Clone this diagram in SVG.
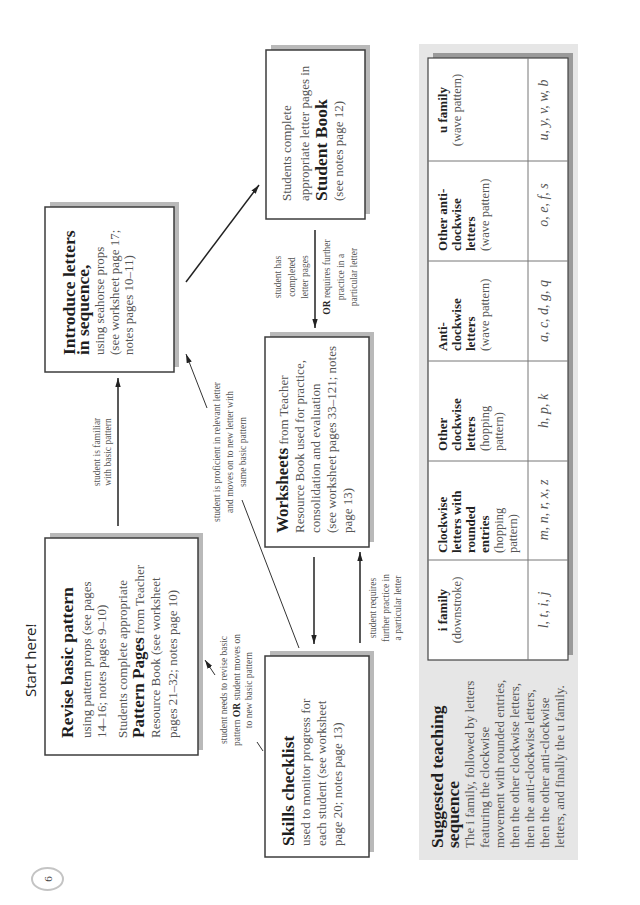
<svg xmlns="http://www.w3.org/2000/svg" width="640" height="905" viewBox="0 0 640 905">
<defs>
<style>
.box{fill:#fff;stroke:#3c3c3c;stroke-width:1.5}
.sh{fill:#b9b9b9}
.h{font-family:"Liberation Serif",serif;font-weight:bold;font-size:17.5px;fill:#1e1e1e}
.b{font-weight:bold;fill:#1e1e1e;font-size:17px}
.t{font-family:"Liberation Serif",serif;font-size:13px;fill:#555}
.lb{font-family:"Liberation Serif",serif;font-size:9.5px;fill:#555;text-anchor:middle}
.lb .o{font-weight:bold;fill:#222}
.c{stroke:#222;stroke-width:1.5;fill:none}
.c2{stroke:#333;stroke-width:1;fill:none}
.th{font-family:"Liberation Serif",serif;font-weight:bold;font-size:13px;fill:#222}
.tr{font-family:"Liberation Serif",serif;font-size:12.5px;fill:#555}
.lt{font-family:"Liberation Serif",serif;font-style:italic;font-size:14px;fill:#555;text-anchor:middle}
.tl{stroke:#777;stroke-width:1}
</style>
<marker id="ah" viewBox="0 0 10 6" refX="10" refY="3" markerWidth="9" markerHeight="6" markerUnits="userSpaceOnUse" orient="auto">
<path d="M0,0 L10,3 L0,6 z" fill="#222"/>
</marker>
</defs>
<rect width="640" height="905" fill="#fff"/>
<g transform="translate(0,905) rotate(-90)">

<g id="page-number">
<ellipse cx="26" cy="47.5" rx="11" ry="15.5" fill="#fff" stroke="#c4c4c4" stroke-width="2"/>
<text x="26" y="51.5" text-anchor="middle" style="font-family:'Liberation Serif',serif;font-size:11px;fill:#444">6</text>
</g>

<g id="start-here">
<text x="208" y="36" style="font-family:'Open Sans',sans-serif;font-size:15px;fill:#222">Start here!</text>
</g>

<g id="revise">
<rect class="sh" x="155" y="50" width="217" height="153"/>
<rect class="box" x="150" y="45" width="217" height="153"/>
<text class="h" x="167" y="73">Revise basic pattern</text>
<text class="t" x="167" y="91">using pattern props (see pages</text>
<text class="t" x="167" y="106">14–16; notes pages 9–10)</text>
<text class="t" x="167" y="127">Students complete appropriate</text>
<text class="t" x="167" y="144"><tspan class="b">Pattern Pages</tspan> from Teacher</text>
<text class="t" x="167" y="160">Resource Book (see worksheet</text>
<text class="t" x="167" y="177">pages 21–32; notes page 10)</text>
</g>

<g id="introduce">
<rect class="sh" x="538" y="50" width="165" height="129"/>
<rect class="box" x="533" y="45" width="165" height="129"/>
<text class="h" x="550" y="75">Introduce letters</text>
<text class="h" x="550" y="89">in sequence,</text>
<text class="t" x="550" y="104">using seahorse props</text>
<text class="t" x="550" y="119">(see worksheet page 17;</text>
<text class="t" x="550" y="133">notes pages 10–11)</text>
</g>

<g id="student-book">
<rect class="sh" x="691" y="271" width="169" height="99"/>
<rect class="box" x="686" y="266" width="169" height="99"/>
<text class="t" x="704" y="291">Students complete</text>
<text class="t" x="704" y="309">appropriate letter pages in</text>
<text class="h" x="704" y="327">Student Book</text>
<text class="t" x="704" y="343">(see notes page 12)</text>
</g>

<g id="worksheets">
<rect class="sh" x="363" y="270" width="210" height="104"/>
<rect class="box" x="358" y="265" width="210" height="104"/>
<text class="t" x="372" y="288"><tspan class="b">Worksheets</tspan> from Teacher</text>
<text class="t" x="372" y="304">Resource Book used for practice,</text>
<text class="t" x="372" y="320">consolidation and evaluation</text>
<text class="t" x="372" y="336">(see worksheet pages 33–121; notes</text>
<text class="t" x="372" y="352">page 13)</text>
</g>

<g id="skills">
<rect class="sh" x="53" y="270" width="201" height="104"/>
<rect class="box" x="48" y="265" width="201" height="104"/>
<text class="h" x="59" y="294">Skills checklist</text>
<text class="t" x="59" y="310">used to monitor progress for</text>
<text class="t" x="59" y="326">each student (see worksheet</text>
<text class="t" x="59" y="342">page 20; notes page 13)</text>
</g>

<g id="connectors">
<line class="c" x1="379" y1="118" x2="527" y2="118" marker-end="url(#ah)"/>
<line class="c" x1="623" y1="186" x2="720" y2="259" marker-end="url(#ah)"/>
<line class="c" x1="675" y1="315" x2="577" y2="315" marker-end="url(#ah)"/>
<line class="c" x1="348" y1="314" x2="261" y2="314" marker-end="url(#ah)"/>
<line class="c" x1="262" y1="360" x2="353" y2="360" marker-end="url(#ah)"/>
<line class="c2" x1="257" y1="299" x2="405" y2="242"/>
<line class="c2" x1="497" y1="207" x2="551" y2="186" marker-end="url(#ah)"/>
<line class="c2" x1="154" y1="263" x2="163" y2="257"/>
<line class="c2" x1="230" y1="215" x2="245" y2="205" marker-end="url(#ah)"/>
<text class="lb" x="453" y="100">student is familiar</text>
<text class="lb" x="453" y="111">with basic pattern</text>
<text class="lb" x="628" y="281">student has</text>
<text class="lb" x="628" y="295">completed</text>
<text class="lb" x="628" y="308">letter pages</text>
<text class="lb" x="628" y="330"><tspan class="o">OR</tspan> requires further</text>
<text class="lb" x="628" y="344">practice in a</text>
<text class="lb" x="628" y="357">particular letter</text>
<text class="lb" x="453" y="220">student is proficient in relevant letter</text>
<text class="lb" x="453" y="233">and moves on to new letter with</text>
<text class="lb" x="453" y="246">same basic pattern</text>
<text class="lb" x="297" y="376">student requires</text>
<text class="lb" x="297" y="389">further practice in</text>
<text class="lb" x="297" y="401">a particular letter</text>
<text class="lb" x="215" y="227">student needs to revise basic</text>
<text class="lb" x="215" y="240">pattern <tspan class="o">OR</tspan> student moves on</text>
<text class="lb" x="215" y="252">to new basic pattern</text>
</g>

<g id="sequence-panel">
<rect x="45" y="419" width="816" height="159" fill="#e6e6e6"/>
<text class="h" x="57" y="443">Suggested teaching</text>
<text class="h" x="57" y="459">sequence</text>
<text class="t" x="57" y="474">The i family, followed by letters</text>
<text class="t" x="57" y="489">featuring the clockwise</text>
<text class="t" x="57" y="504">movement with rounded entries,</text>
<text class="t" x="57" y="519">then the other clockwise letters,</text>
<text class="t" x="57" y="534">then the anti-clockwise letters,</text>
<text class="t" x="57" y="549">then the other anti-clockwise</text>
<text class="t" x="57" y="564">letters, and finally the u family.</text>
</g>

<g id="table">
<rect x="250" y="433" width="602" height="140" fill="#9a9a9a"/>
<rect x="245" y="428" width="602" height="140" fill="#fff" stroke="#444" stroke-width="1.2"/>
<line class="tl" x1="245" y1="528" x2="847" y2="528"/>
<line class="tl" x1="345" y1="428" x2="345" y2="568"/>
<line class="tl" x1="444" y1="428" x2="444" y2="568"/>
<line class="tl" x1="544" y1="428" x2="544" y2="568"/>
<line class="tl" x1="644" y1="428" x2="644" y2="568"/>
<line class="tl" x1="744" y1="428" x2="744" y2="568"/>

<text class="th" x="295" y="447" text-anchor="middle">i family</text>
<text class="tr" x="295" y="461" text-anchor="middle">(downstroke)</text>
<text class="lt" x="295" y="548">l, t, i, j</text>

<text class="th" x="352" y="447">Clockwise</text>
<text class="th" x="352" y="461">letters with</text>
<text class="th" x="352" y="475">rounded</text>
<text class="th" x="352" y="489">entries</text>
<text class="tr" x="352" y="503">(hopping</text>
<text class="tr" x="352" y="517">pattern)</text>
<text class="lt" x="395" y="548">m, n, r, x, z</text>

<text class="th" x="454" y="447">Other</text>
<text class="th" x="454" y="461">clockwise</text>
<text class="th" x="454" y="475">letters</text>
<text class="tr" x="454" y="489">(hopping</text>
<text class="tr" x="454" y="503">pattern)</text>
<text class="lt" x="494" y="548">h, p, k</text>

<text class="th" x="554" y="447">Anti-</text>
<text class="th" x="554" y="461">clockwise</text>
<text class="th" x="554" y="475">letters</text>
<text class="tr" x="554" y="489">(wave pattern)</text>
<text class="lt" x="594" y="548">a, c, d, g, q</text>

<text class="th" x="654" y="447">Other anti-</text>
<text class="th" x="654" y="461">clockwise</text>
<text class="th" x="654" y="475">letters</text>
<text class="tr" x="654" y="489">(wave pattern)</text>
<text class="lt" x="700" y="548">o, e, f, s</text>

<text class="th" x="795" y="447" text-anchor="middle">u family</text>
<text class="tr" x="795" y="461" text-anchor="middle">(wave pattern)</text>
<text class="lt" x="795" y="548">u, y, v, w, b</text>
</g>

</g>
</svg>
